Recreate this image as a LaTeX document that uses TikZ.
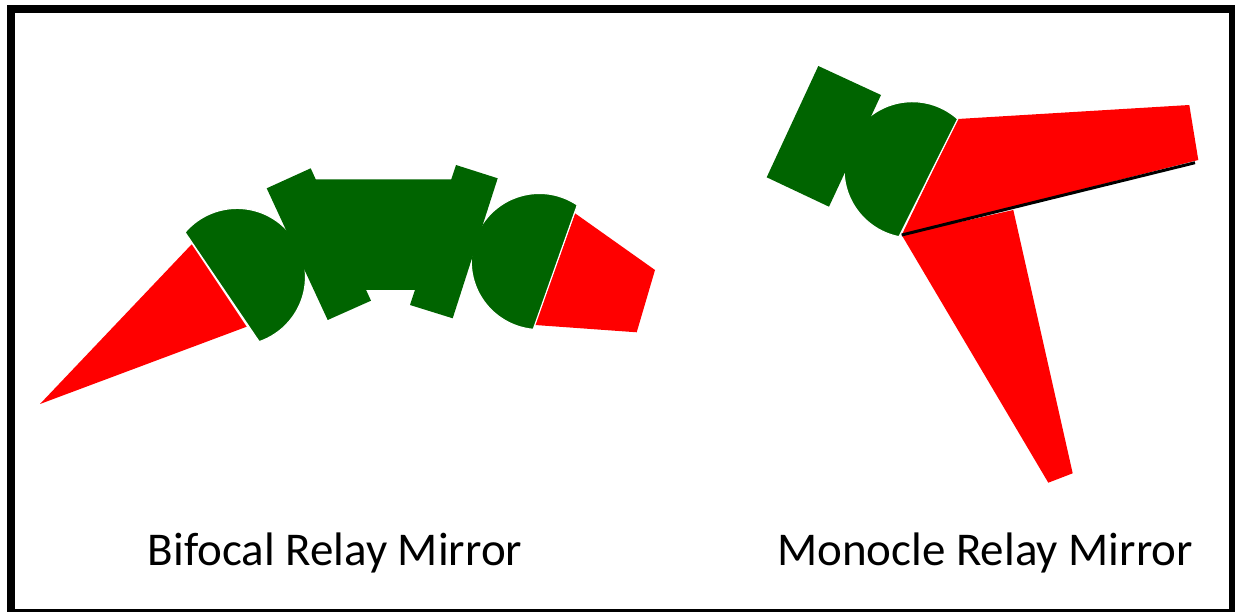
\documentclass[tikz,border=0pt]{standalone}
\usepackage{fontspec}
\setmainfont{Carlito}
\definecolor{lensgreen}{RGB}{0,100,0}
\tikzset{
    lens/.style={fill=lensgreen, draw=white, line width=1.2pt},
    block/.style={fill=lensgreen},
    beam/.style={fill=red},
    caption/.style={anchor=base, font=\fontsize{47}{56}\selectfont}
}
\begin{document}
\begin{tikzpicture}[x=1pt, y=-1pt]
        \useasboundingbox (0,0) rectangle (1235,612);
        % frame
        \draw [line width=8pt] (11,9) rectangle (1233,613);
        % bifocal relay mirror
        \fill [beam] (40,404) -- (191.7,244.3) -- (246.7,326.7) -- cycle;
        \fill [beam] (575,213.3) -- (655,270) -- (636.7,332.3) -- (535,325) -- cycle;
        \filldraw [lens] (185,232.3) arc [start angle=-139.4, end angle=71.1, radius=68.5] -- cycle;
        \filldraw [lens] (577.3,205) arc [start angle=-56.1, end angle=-264.9, radius=68.1] -- cycle;
        \fill [block] (300,179.3) -- (470,179.3) -- (430,290) -- (340,290) -- cycle;
        \fill [block] (266.7,188.3) -- (310.7,168.3) -- (371,300.7) -- (327.7,320) -- cycle;
        \fill [block] (456,165) -- (497.7,178.3) -- (452.7,318.3) -- (410,305) -- cycle;
        % monocle relay mirror
        \fill [beam] (957.7,119) -- (1189.3,105) -- (1198.3,160) -- (901.7,235) -- cycle;
        \fill [beam] (901.7,235) -- (1013.3,210) -- (1072.7,473.3) -- (1048.3,482.7) -- cycle;
        \filldraw [lens] (957.7,119) arc [start angle=-48.2, end angle=-258.8, radius=68.2] -- cycle;
        \fill [block] (818.3,66) -- (881,95) -- (829,206.7) -- (766.7,177.3) -- cycle;
        \draw [line width=3pt] (901.7,235) -- (1195,162.7);
        % captions
        \node [caption] (bifocal) at (335,565) {Bifocal Relay Mirror};
        \node [caption] (monocle) at (985,565) {Monocle Relay Mirror};
    \end{tikzpicture}
\end{document}
